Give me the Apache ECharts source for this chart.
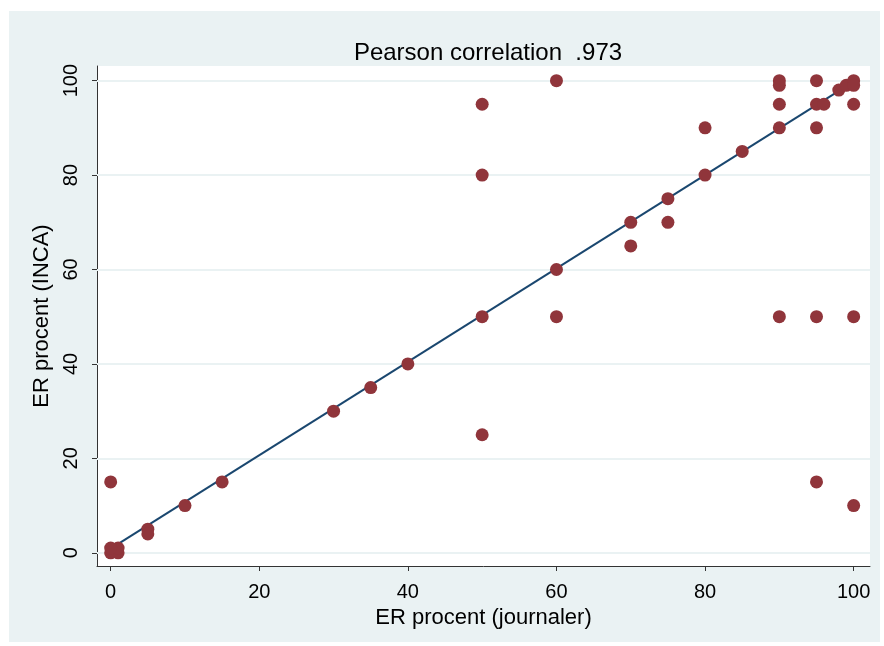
<!DOCTYPE html>
<html>
<head>
<meta charset="utf-8">
<script src="https://cdn.jsdelivr.net/npm/echarts@6/dist/echarts.min.js"></script>
<style>
html,body{margin:0;padding:0;background:#ffffff;}
#chart{width:884px;height:646px;}
</style>
</head>
<body>
<div id="chart"></div>
<script>
const titleText = 'Pearson correlation  .973';
const xTitle = 'ER procent (journaler)';
const yTitle = 'ER procent (INCA)';
const tickValues = [0, 20, 40, 60, 80, 100];
const xVals = [0,0,1,1,0, 5,5,10,15,30,35,40,50,50,50,50,60,60,60,70,70,75,75,80,80,85,90,90,90,90,90,95,95,95,95,95,96,98,99,100,100,100,100,100];
const yVals = [15,0,0,1,1, 5,4,10,15,30,35,40,95,80,50,25,100,60,50,70,65,75,70,90,80,85,100,99,95,90,50,100,95,90,50,15,95,98,99,100,99,95,50,10];
const fitX = [0, 100];
const fitY = [0.9, 99.8];

const points = xVals.map((x, i) => [x, yVals[i]]);
const fitLine = fitX.map((x, i) => [x, fitY[i]]);

const chart = echarts.init(document.getElementById('chart'), null, {renderer: 'canvas'});
const font = 'Liberation Sans, Arial, sans-serif';
chart.setOption({
  animation: false,
  backgroundColor: '#ffffff',
  graphic: [{
    type: 'rect', z: -10, silent: true,
    shape: {x: 9, y: 11, width: 871, height: 631},
    style: {fill: '#EAF2F3'}
  }],
  title: {
    text: titleText, left: 483, textAlign: 'center', top: 36,
    textStyle: {fontFamily: font, fontSize: 24, fontWeight: 'normal', color: '#000'}
  },
  grid: {
    left: 97, top: 66, right: 14, bottom: 80,
    show: true, backgroundColor: '#ffffff', borderWidth: 0
  },
  xAxis: {
    type: 'value', min: -1.84, max: 102.2,
    name: xTitle, nameLocation: 'middle', nameGap: 40,
    nameTextStyle: {fontFamily: font, fontSize: 22, color: '#000'},
    axisLine: {show: true, onZero: false, lineStyle: {color: '#333', width: 1}},
    axisTick: {show: true, length: 5, customValues: tickValues, lineStyle: {color: '#333'}},
    axisLabel: {customValues: tickValues, margin: 16, fontFamily: font, fontSize: 20, color: '#000'},
    splitLine: {show: false}
  },
  yAxis: {
    type: 'value', min: -2.8, max: 103.1,
    name: yTitle, nameLocation: 'middle', nameGap: 41, nameRotate: 90,
    nameTextStyle: {fontFamily: font, fontSize: 22, color: '#000'},
    axisLine: {show: true, onZero: false, lineStyle: {color: '#333', width: 1}},
    axisTick: {show: true, length: 5, customValues: tickValues, lineStyle: {color: '#333'}},
    axisLabel: {customValues: tickValues, rotate: 90, margin: 16, fontFamily: font, fontSize: 20, color: '#000'},
    splitLine: {show: false}
  },
  series: [
    {
      type: 'scatter', data: [], z: 1, silent: true,
      markLine: {
        z: 1, silent: true, symbol: 'none', label: {show: false}, animation: false,
        lineStyle: {color: '#EAF2F3', width: 2, type: 'solid'},
        data: tickValues.map(v => ({yAxis: v}))
      }
    },
    {
      type: 'line', data: fitLine, showSymbol: false, z: 3,
      lineStyle: {color: '#1A476F', width: 2}
    },
    {
      type: 'scatter', data: points, symbol: 'circle', symbolSize: 13, z: 4,
      itemStyle: {color: '#90353B', opacity: 1}
    }
  ]
});
</script>
</body>
</html>
